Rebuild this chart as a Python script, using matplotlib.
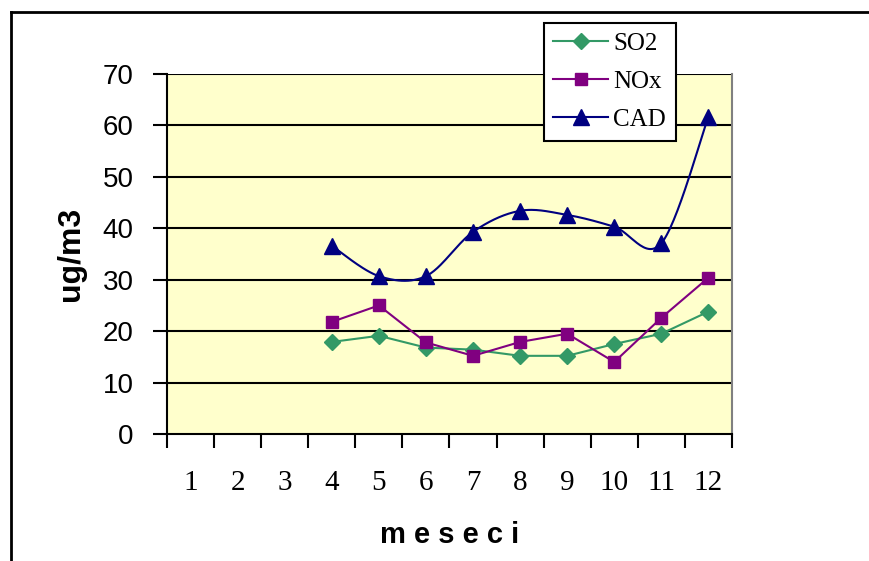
import numpy as np
import matplotlib
matplotlib.use("Agg")
import matplotlib.pyplot as plt
from matplotlib.lines import Line2D

months = [4, 5, 6, 7, 8, 9, 10, 11, 12]
so2 = [17.9, 19.1, 16.8, 16.4, 15.2, 15.2, 17.5, 19.5, 23.8]
nox = [21.8, 25.0, 17.8, 15.2, 17.9, 19.5, 14.0, 22.6, 30.4]
cad = [36.6, 30.7, 30.7, 39.3, 43.4, 42.6, 40.3, 37.1, 61.7]
month_labels = [str(m) for m in range(1, 13)]


def smooth(x, y, n=30):
    # Catmull-Rom style smoothing like Excel "smoothed line"
    x = np.asarray(x, float)
    y = np.asarray(y, float)
    px = np.concatenate([[x[0]], x, [x[-1]]])
    py = np.concatenate([[y[0]], y, [y[-1]]])
    xs, ys = [], []
    t = np.linspace(0, 1, n)
    for i in range(1, len(px) - 2):
        p0 = np.array([px[i], py[i]])
        p3 = np.array([px[i + 1], py[i + 1]])
        p1 = p0 + (p3 - np.array([px[i - 1], py[i - 1]])) / 6
        p2 = p3 - (np.array([px[i + 2], py[i + 2]]) - p0) / 6
        b = ((1 - t) ** 3)[:, None] * p0 + (3 * (1 - t) ** 2 * t)[:, None] * p1 \
            + (3 * (1 - t) * t ** 2)[:, None] * p2 + (t ** 3)[:, None] * p3
        xs.extend(b[:, 0])
        ys.extend(b[:, 1])
    return xs, ys


fig = plt.figure(figsize=(8.7, 5.61), dpi=100)
ax = fig.add_axes([167 / 870, 1 - 434 / 561, 565 / 870, 360 / 561])
ax.set_facecolor("#FFFFCC")

for g in range(10, 71, 10):
    ax.axhline(g, color="black", lw=1.5, zorder=1)

ax.plot(months, so2, color="#339966", lw=1.5, marker="D", ms=8, label="SO2", zorder=3)
ax.plot(months, nox, color="#800080", lw=1.5, marker="s", ms=9, label="NOx", zorder=3)
sx, sy = smooth(months, cad)
ax.plot(sx, sy, color="#000080", lw=1.5, zorder=3)
ax.plot(months, cad, color="#000080", lw=0, marker="^", ms=11, zorder=4)
cad_handle = Line2D([], [], color="#000080", lw=1.5, marker="^", ms=11)

ax.set_xlim(0.5, 12.5)
ax.set_ylim(0, 70)
ax.set_yticks(range(0, 71, 10))
ax.set_yticklabels([str(v) for v in range(0, 71, 10)], fontfamily="Liberation Sans", fontsize=20)
ax.tick_params(axis="y", direction="out", length=10, width=1.5, pad=14)

ax.set_xticks(np.arange(0.5, 12.6, 1))
ax.set_xticklabels([])
ax.tick_params(axis="x", direction="out", length=10, width=1.5)
ax.set_xticks(range(1, 13), minor=True)
ax.set_xticklabels(month_labels, minor=True, fontfamily="Liberation Serif", fontsize=21)
ax.tick_params(axis="x", which="minor", length=0, pad=26)

for s in ["left", "bottom"]:
    ax.spines[s].set_linewidth(1.5)
    ax.spines[s].set_color("black")
ax.spines["top"].set_visible(False)
ax.spines["right"].set_color("#808080")
ax.spines["right"].set_linewidth(1.5)

ax.set_ylabel("ug/m3", fontfamily="Liberation Sans", fontweight="bold", fontsize=23, labelpad=12)
ax.set_xlabel("m e s e c i", fontfamily="Liberation Sans", fontweight="bold", fontsize=21, labelpad=18)

h = ax.get_legend_handles_labels()[0][:2] + [cad_handle]
leg = ax.legend(h, ["SO2", "NOx", "CAD"], loc="upper left",
                bbox_to_anchor=(544 / 870, 1 - 23 / 561), bbox_transform=fig.transFigure,
                borderaxespad=0, fancybox=False, framealpha=1, edgecolor="black",
                prop={"family": "Liberation Serif", "size": 18},
                handlelength=2.2, handletextpad=0.2, labelspacing=0.62, borderpad=0.38)
leg.get_frame().set_linewidth(1.5)
leg.set_zorder(10)

fig.add_artist(Line2D([11 / 870, 11 / 870], [0, 1 - 12 / 561], color="black", lw=2))
fig.add_artist(Line2D([11 / 870, 1], [1 - 12 / 561, 1 - 12 / 561], color="black", lw=2))

fig.savefig("out.png", dpi=100)
